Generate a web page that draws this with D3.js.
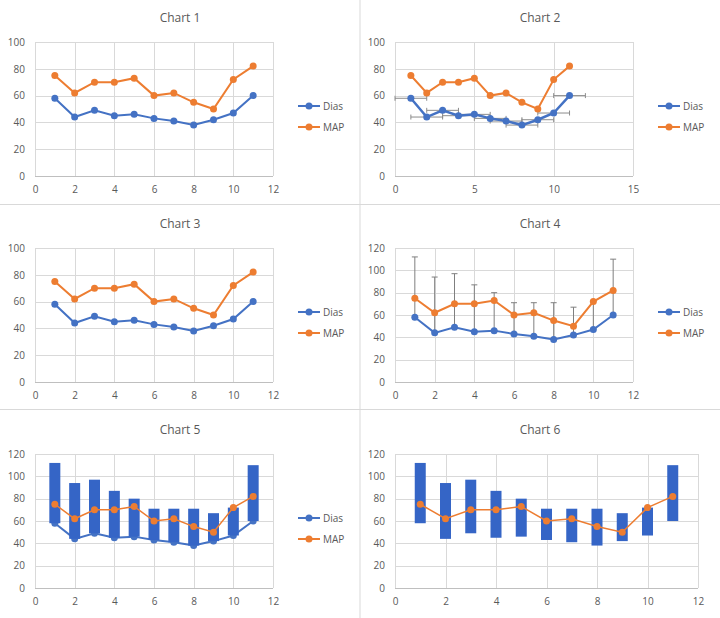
<!DOCTYPE html>
<html>
<head>
<meta charset="utf-8">
<script src="https://cdn.jsdelivr.net/npm/d3@7"></script>
<style>
  body { margin: 0; background: #ffffff; }
  text { font-family: "Open Sans", "Noto Sans", sans-serif; fill: #595959; }
</style>
</head>
<body>
<script>
// readings, x = 1..11
var readings = [1, 2, 3, 4, 5, 6, 7, 8, 9, 10, 11];
var dias = [58, 44, 49, 45, 46, 43, 41, 38, 42, 47, 60];
var map = [75, 62, 70, 70, 73, 60, 62, 55, 50, 72, 82];
var sys = [112, 94, 97, 87, 80, 71, 71, 71, 67, 72, 110];
var xErr = [1, 1, 1, 1, 1, 1, 1, 1, 1, 1, 1];

var titles = ["Chart 1", "Chart 2", "Chart 3", "Chart 4", "Chart 5", "Chart 6"];
var seriesNames = ["Dias", "MAP"];

var diasColor = "#4472C4";
var mapColor = "#ED7D31";
var barColor = "#3565C6";
var gridColor = "#d9d9d9";

var outerWidth = 720;
var outerHeight = 618;

var svg = d3.select("body")
    .append("svg")
    .attr("width", outerWidth)
    .attr("height", outerHeight);

// panel separators
svg.append("line")
    .attr("x1", 360).attr("x2", 360).attr("y1", 0).attr("y2", outerHeight)
    .attr("stroke", "#d9d9d9").attr("stroke-width", 1);
[204.5, 409.5].forEach(function(y) {
    svg.append("line")
        .attr("x1", 0).attr("x2", outerWidth).attr("y1", y).attr("y2", y)
        .attr("stroke", "#d9d9d9").attr("stroke-width", 1);
});

var panels = [
    {col: 0, row: 0, xMax: 12, xStep: 2, yMax: 100, legend: true},
    {col: 1, row: 0, xMax: 15, xStep: 5, yMax: 100, legend: true, xErrors: true},
    {col: 0, row: 1, xMax: 12, xStep: 2, yMax: 100, legend: true},
    {col: 1, row: 1, xMax: 12, xStep: 2, yMax: 120, legend: true, yErrors: true},
    {col: 0, row: 2, xMax: 12, xStep: 2, yMax: 120, legend: true, bars: true},
    {col: 1, row: 2, xMax: 12, xStep: 2, yMax: 120, legend: false, bars: true, hideDias: true}
];

panels.forEach(function(p, i) {
    var px = p.col * 360;
    var py = p.row * 206;
    var g = svg.append("g").attr("transform", "translate(" + px + "," + py + ")");

    var plotRight = p.legend ? 273 : 338;
    var xScale = d3.scaleLinear().domain([0, p.xMax]).range([35, plotRight]);
    var yScale = d3.scaleLinear().domain([0, p.yMax]).range([176, 42]);

    var xTicks = d3.range(0, p.xMax + 1, p.xStep);
    var yTicks = d3.range(0, p.yMax + 1, 20);

    // title, centred on the panel
    g.append("text")
        .attr("x", 180)
        .attr("y", 22)
        .attr("text-anchor", "middle")
        .style("font-size", "12px")
        .text(titles[i]);

    // gridlines
    g.selectAll(".hgrid")
        .data(yTicks)
        .enter()
        .append("line")
        .attr("x1", xScale(0)).attr("x2", xScale(p.xMax))
        .attr("y1", function(d) { return Math.round(yScale(d)) + 0.5; })
        .attr("y2", function(d) { return Math.round(yScale(d)) + 0.5; })
        .attr("stroke", function(d) { return d === 0 ? "#bfbfbf" : gridColor; })
        .attr("stroke-width", 1);

    g.selectAll(".vgrid")
        .data(xTicks)
        .enter()
        .append("line")
        .attr("x1", function(d) { return Math.round(xScale(d)) + 0.5; })
        .attr("x2", function(d) { return Math.round(xScale(d)) + 0.5; })
        .attr("y1", yScale(p.yMax)).attr("y2", yScale(0))
        .attr("stroke", gridColor)
        .attr("stroke-width", 1);

    // axes (labels only)
    var yAxis = d3.axisLeft(yScale).tickValues(yTicks).tickSize(0).tickPadding(10);
    var xAxis = d3.axisBottom(xScale).tickValues(xTicks).tickSize(0).tickPadding(10);

    var ya = g.append("g").attr("transform", "translate(" + xScale(0) + ",0)").call(yAxis);
    var xa = g.append("g").attr("transform", "translate(0," + yScale(0) + ")").call(xAxis);
    [ya, xa].forEach(function(a) {
        a.select(".domain").remove();
        a.selectAll("text").style("font-size", "10px").attr("fill", "#595959");
    });

    var line = d3.line()
        .x(function(d) { return xScale(d[0]); })
        .y(function(d) { return yScale(d[1]); });

    var diasPts = readings.map(function(r, k) { return [r, dias[k]]; });
    var mapPts = readings.map(function(r, k) { return [r, map[k]]; });

    // chart 2: horizontal error bars on Dias
    if (p.xErrors) {
        var eg = g.append("g").attr("class", "xerr");
        readings.forEach(function(r, k) {
            var y = yScale(dias[k]);
            var x1 = xScale(Math.max(0, r - xErr[k]));
            var x2 = xScale(r + xErr[k]);
            eg.append("line").attr("x1", x1).attr("x2", x2).attr("y1", y).attr("y2", y)
                .attr("stroke", "#8c8c8c").attr("stroke-width", 1);
            [x1, x2].forEach(function(x) {
                eg.append("line").attr("x1", x).attr("x2", x).attr("y1", y - 2.5).attr("y2", y + 2.5)
                    .attr("stroke", "#8c8c8c").attr("stroke-width", 1);
            });
        });
    }

    // Dias series
    if (!p.hideDias) {
        g.append("path")
            .attr("d", line(diasPts))
            .attr("fill", "none")
            .attr("stroke", diasColor)
            .attr("stroke-width", p.xErrors ? 2.5 : 2);
    }

    // chart 4: Dias to Sys error bars on MAP
    if (p.yErrors) {
        var vg = g.append("g").attr("class", "yerr");
        readings.forEach(function(r, k) {
            var x = xScale(r);
            vg.append("line").attr("x1", x).attr("x2", x)
                .attr("y1", yScale(dias[k])).attr("y2", yScale(sys[k]))
                .attr("stroke", "#7f7f7f").attr("stroke-width", 1);
            vg.append("line").attr("x1", x - 3).attr("x2", x + 3)
                .attr("y1", yScale(sys[k])).attr("y2", yScale(sys[k]))
                .attr("stroke", "#7f7f7f").attr("stroke-width", 1);
        });
    }

    if (!p.hideDias) {
        g.selectAll(".diasDot")
            .data(diasPts)
            .enter()
            .append("circle")
            .attr("cx", function(d) { return xScale(d[0]); })
            .attr("cy", function(d) { return yScale(d[1]); })
            .attr("r", 3.5)
            .attr("fill", diasColor);
    }

    // charts 5 and 6: thick bars from Dias to Sys
    if (p.bars) {
        g.selectAll(".bar")
            .data(readings)
            .enter()
            .append("rect")
            .attr("x", function(d) { return xScale(d) - 5.5; })
            .attr("y", function(d, k) { return yScale(sys[k]); })
            .attr("width", 11)
            .attr("height", function(d, k) { return yScale(dias[k]) - yScale(sys[k]); })
            .attr("fill", barColor);
    }

    // MAP series
    g.append("path")
        .attr("d", line(mapPts))
        .attr("fill", "none")
        .attr("stroke", mapColor)
        .attr("stroke-width", p.bars ? 1.5 : 2);

    g.selectAll(".mapDot")
        .data(mapPts)
        .enter()
        .append("circle")
        .attr("cx", function(d) { return xScale(d[0]); })
        .attr("cy", function(d) { return yScale(d[1]); })
        .attr("r", 3.5)
        .attr("fill", mapColor);

    // legend
    if (p.legend) {
        var colors = [diasColor, mapColor];
        seriesNames.forEach(function(name, k) {
            var ly = 106 + k * 21;
            g.append("line").attr("x1", 298).attr("x2", 320).attr("y1", ly).attr("y2", ly)
                .attr("stroke", colors[k]).attr("stroke-width", 2);
            g.append("circle").attr("cx", 309).attr("cy", ly).attr("r", 3.5).attr("fill", colors[k]);
            g.append("text").attr("x", 323).attr("y", ly + 3.5)
                .style("font-size", "10px")
                .text(name);
        });
    }
});
</script>
</body>
</html>
